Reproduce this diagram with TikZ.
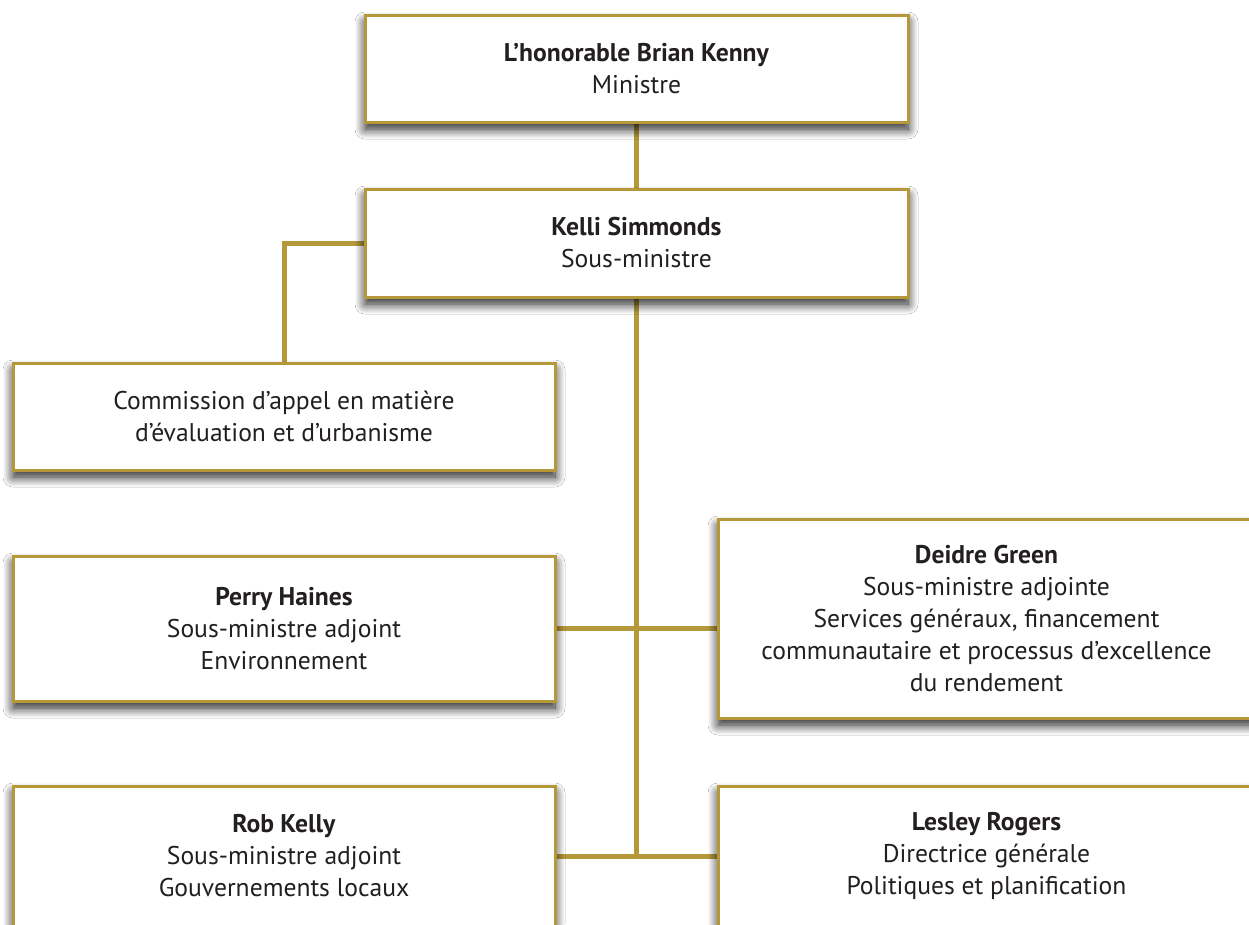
\documentclass[tikz,border=0pt]{standalone}
\usepackage{fontspec}
\setmainfont{PT Sans}
\usetikzlibrary{shadows.blur}
\definecolor{gold}{HTML}{B4983A}
\definecolor{ink}{HTML}{231F20}
\tikzset{
  box/.style={draw=gold, line width=3pt, fill=white, rectangle, inner sep=0pt,
    align=center, text=ink, font=\fontsize{25.6}{32}\selectfont,
    blur shadow={shadow xshift=0pt, shadow yshift=-7pt, shadow blur radius=10pt, shadow blur steps=12, shadow opacity=90}},
  link/.style={draw=gold, line width=5pt}
}
\begin{document}
\begin{tikzpicture}[x=1pt,y=-1pt]
\path[fill=white] (0,0) rectangle (1249,924);
\useasboundingbox (0,0) rectangle (1249,924);
% connectors (behind the boxes)
\coordinate (mtop) at (636.5,68);
\coordinate (ktop) at (636.5,243);
\coordinate (kbot) at (636.5,856);
\coordinate (elbow) at (284,243);
\coordinate (rowA) at (636.5,628.5);
\draw[link] (mtop) -- (ktop) -- (kbot);
\draw[link] (ktop) -- (elbow) -- (284,416);
\draw[link] (284,628.5) -- (rowA) -- (986.5,628.5);
\draw[link] (284,856) -- (kbot) -- (986.5,856);
% boxes
\node[box, minimum width=543pt, minimum height=107pt] (min) at (636.5,68.5)
  {\textbf{L’honorable Brian Kenny}\\Ministre};
\node[box, minimum width=543pt, minimum height=108pt] (kelli) at (636.5,243)
  {\textbf{Kelli Simmonds}\\Sous-ministre};
\node[box, minimum width=542pt, minimum height=107pt] (comm) at (284,416.5)
  {Commission d’appel en matière\\d’évaluation et d’urbanisme};
\node[box, minimum width=542pt, minimum height=145pt] (perry) at (284,628.5)
  {\textbf{Perry Haines}\\Sous-ministre adjoint\\Environnement};
\node[box, minimum width=537pt, minimum height=199pt] (deidre) at (986.5,618.5)
  {\textbf{Deidre Green}\\Sous-ministre adjointe\\Services généraux, financement\\communautaire et processus d’excellence\\du rendement};
\node[box, minimum width=542pt, minimum height=140pt] (rob) at (284,856)
  {\textbf{Rob Kelly}\\Sous-ministre adjoint\\Gouvernements locaux};
\node[box, minimum width=537pt, minimum height=140pt] (lesley) at (986.5,856)
  {\textbf{Lesley Rogers}\\Directrice générale\\Politiques et planification};
\end{tikzpicture}
\end{document}
